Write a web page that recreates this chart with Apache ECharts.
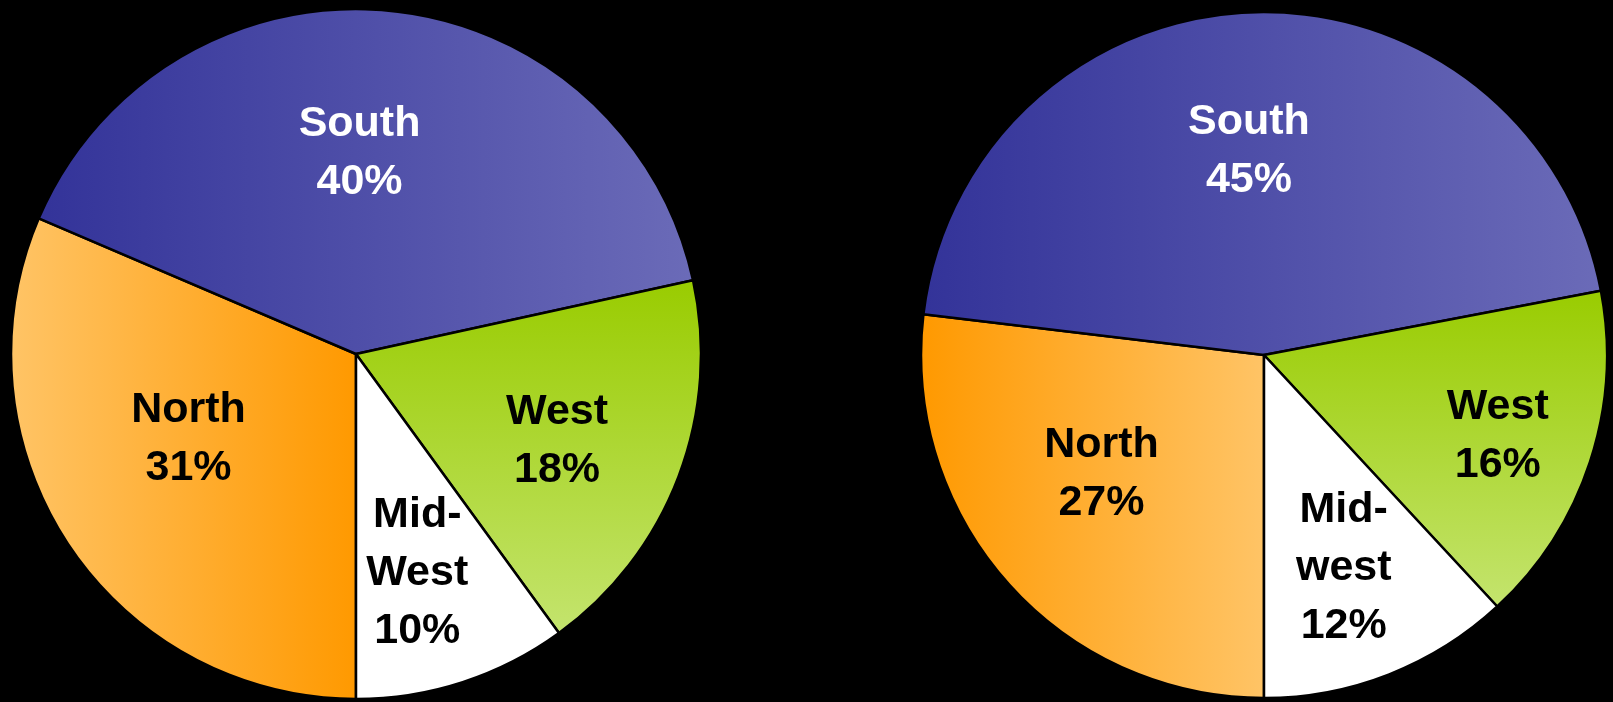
<!DOCTYPE html>
<html>
<head>
<meta charset="utf-8">
<script src="https://cdn.jsdelivr.net/npm/echarts@6/dist/echarts.min.js"></script>
<style>
html,body{margin:0;padding:0;background:#000;}
#chart{width:1613px;height:702px;}
</style>
</head>
<body>
<div id="chart"></div>
<script>
// Data
const leftCategories = ['North', 'South', 'West', 'Mid-West'];
const leftValues = [31.4, 40.1, 18.4, 10.0];
const rightCategories = ['North', 'South', 'West', 'Mid-west'];
const rightValues = [26.9, 45.1, 16.1, 11.9];

function grad(x2, y2, c1, c2) {
  return { type: 'linear', x: 0, y: 0, x2: x2, y2: y2, colorStops: [{ offset: 0, color: c1 }, { offset: 1, color: c2 }] };
}
const southFill = grad(1, 0, '#333399', '#6b6bb8');
const westFill = grad(0, 1, '#99cc00', '#c4e46e');
const midFill = '#ffffff';
const northLeftFill = grad(1, 0, '#ffc466', '#ff9900');
const northRightFill = grad(1, 0, '#ff9900', '#ffc466');

const leftStyles = [
  { fill: northLeftFill, text: '#000', offset: [-21, -12] },
  { fill: southFill, text: '#fff', offset: [-13, -26] },
  { fill: westFill, text: '#000', offset: [37, 25] },
  { fill: midFill, text: '#000', offset: [7, 52] }
];
const rightStyles = [
  { fill: northRightFill, text: '#000', offset: [-32, 3] },
  { fill: southFill, text: '#fff', offset: [-9, -29] },
  { fill: westFill, text: '#000', offset: [68, 27] },
  { fill: midFill, text: '#000', offset: [16, 51] }
];

function buildData(cats, vals, styles) {
  return cats.map(function (c, i) {
    return {
      name: c,
      value: vals[i],
      itemStyle: { color: styles[i].fill },
      label: { color: styles[i].text, offset: styles[i].offset }
    };
  });
}

function pieSeries(center, radius, data) {
  return {
    type: 'pie',
    center: center,
    radius: radius,
    startAngle: 270,
    clockwise: true,
    avoidLabelOverlap: false,
    percentPrecision: 2,
    silent: true,
    itemStyle: { borderColor: '#000', borderWidth: 2.5 },
    label: {
      show: true,
      position: 'inside',
      fontFamily: 'Liberation Sans',
      fontWeight: 'bold',
      fontSize: 43,
      lineHeight: 58,
      align: 'center',
      formatter: function (p) {
        return p.name.replace('-', '-\n') + '\n' + Math.round(p.percent) + '%';
      }
    },
    labelLine: { show: false },
    emphasis: { disabled: true },
    data: data
  };
}

const chart = echarts.init(document.getElementById('chart'), null, { renderer: 'canvas' });
chart.setOption({
  backgroundColor: '#000000',
  animation: false,
  series: [
    pieSeries([356, 354], 345, buildData(leftCategories, leftValues, leftStyles)),
    pieSeries([1264, 355], 343, buildData(rightCategories, rightValues, rightStyles))
  ]
});
</script>
</body>
</html>
